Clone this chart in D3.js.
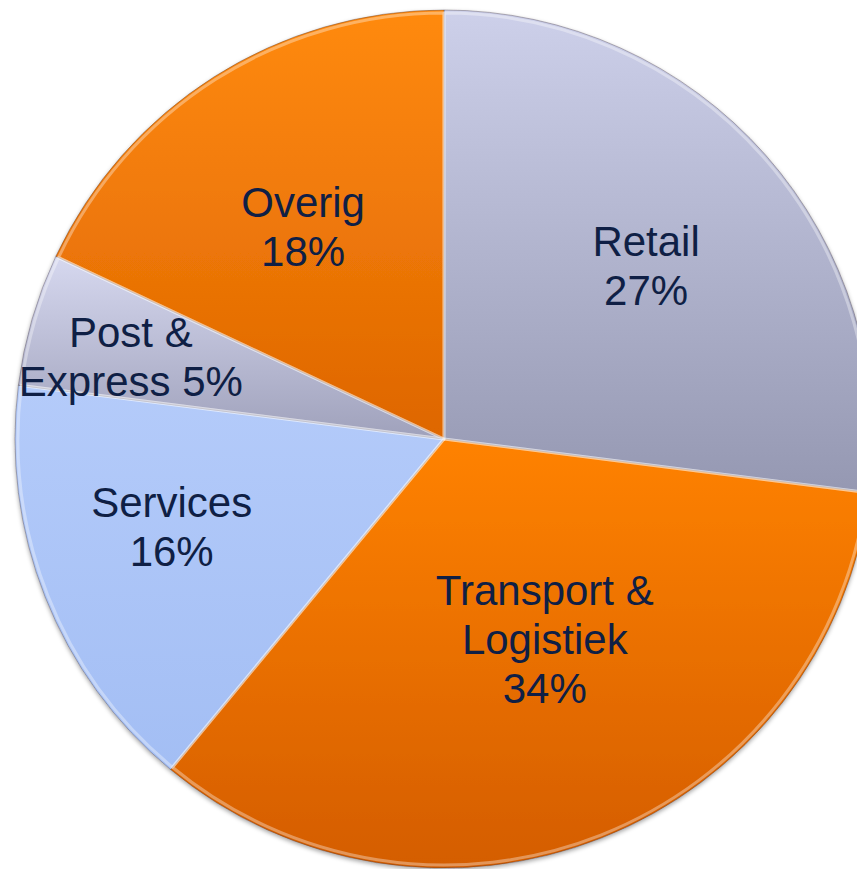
<!DOCTYPE html>
<html>
<head>
<meta charset="utf-8">
<script src="https://cdn.jsdelivr.net/npm/d3@7"></script>
<style>
  html, body { margin: 0; padding: 0; background: #fff; }
  svg { display: block; }
</style>
</head>
<body>
<div id="chart"></div>
<script>
// data, clockwise from 12 o'clock
const categories = ['Retail', 'Transport & Logistiek', 'Services', 'Post & Express', 'Overig'];
const shares = [27, 34, 16, 5, 18];
// label lines as shown on the slice
const labelLines = [
  ['Retail', '27%'],
  ['Transport &', 'Logistiek', '34%'],
  ['Services', '16%'],
  ['Post &', 'Express 5%'],
  ['Overig', '18%'],
];

// top / bottom colour of each slice's gradient
const sliceColors = [
  ['#cdd0ea', '#9598b2'],
  ['#ff8200', '#d45d00'],
  ['#b4cbfa', '#a3bef4'],
  ['#d6d8ef', '#9fa1bb'],
  ['#ff8a10', '#de6600'],
];
// small manual nudges for the labels (px), like the original best-fit layout
const labelNudge = [[9, -3], [6, -39], [-33, -7], [-66, -11], [-3, 5]];

const width = 857, height = 869;
const cx = 444, cy = 439, radius = 429;
const fontSize = 42, lineH = 49;

const svg = d3.select('#chart').append('svg')
  .attr('width', width)
  .attr('height', height);

const defs = svg.append('defs');

sliceColors.forEach((c, i) => {
  const g = defs.append('linearGradient')
    .attr('id', `grad${i}`)
    .attr('x1', 0).attr('y1', 0).attr('x2', 0).attr('y2', 1);
  g.append('stop').attr('offset', '0%').attr('stop-color', c[0]);
  g.append('stop').attr('offset', '100%').attr('stop-color', c[1]);
});

const shadow = defs.append('filter').attr('id', 'shadow')
  .attr('x', '-10%').attr('y', '-10%').attr('width', '120%').attr('height', '120%');
shadow.append('feDropShadow')
  .attr('dx', 0).attr('dy', 2)
  .attr('stdDeviation', 2)
  .attr('flood-color', '#000')
  .attr('flood-opacity', 0.35);

const pie = d3.pie().sort(null).value((d) => d)
  .startAngle(0).endAngle(2 * Math.PI);
const arcs = pie(shares);

const arc = d3.arc().innerRadius(0).outerRadius(radius);
const bevel = d3.arc().innerRadius(0).outerRadius(radius - 3);
const labelArc = d3.arc().innerRadius(radius * 0.6).outerRadius(radius * 0.6);

const chartArea = svg.append('g')
  .attr('transform', `translate(${cx},${cy})`);

const slices = chartArea.append('g').attr('filter', 'url(#shadow)');

slices.selectAll('path.slice')
  .data(arcs)
  .join('path')
  .attr('class', 'slice')
  .attr('d', arc)
  .attr('fill', (d, i) => `url(#grad${i})`)
  .attr('stroke', 'rgba(60,50,60,0.35)')
  .attr('stroke-width', 1);

// soft highlight along slice edges (bevel look)
chartArea.append('g').selectAll('path.bevel')
  .data(arcs)
  .join('path')
  .attr('class', 'bevel')
  .attr('d', bevel)
  .attr('fill', 'none')
  .attr('stroke', 'rgba(255,255,255,0.35)')
  .attr('stroke-width', 3)
  .attr('stroke-linejoin', 'round');

const labels = chartArea.append('g').selectAll('text.label')
  .data(arcs)
  .join('text')
  .attr('class', 'label')
  .attr('text-anchor', 'middle')
  .attr('font-family', "'Liberation Sans', Arial, sans-serif")
  .attr('font-size', fontSize)
  .attr('fill', '#0f1f45')
  .attr('transform', (d, i) => {
    const [x, y] = labelArc.centroid(d);
    return `translate(${x + labelNudge[i][0]},${y + labelNudge[i][1]})`;
  });

labels.each(function (d, i) {
  const lines = labelLines[i];
  const first = -((lines.length - 1) * lineH) / 2 + fontSize * 0.36;
  d3.select(this).selectAll('tspan')
    .data(lines)
    .join('tspan')
    .attr('x', 0)
    .attr('y', (t, j) => first + j * lineH)
    .text((t) => t);
});
</script>
</body>
</html>
